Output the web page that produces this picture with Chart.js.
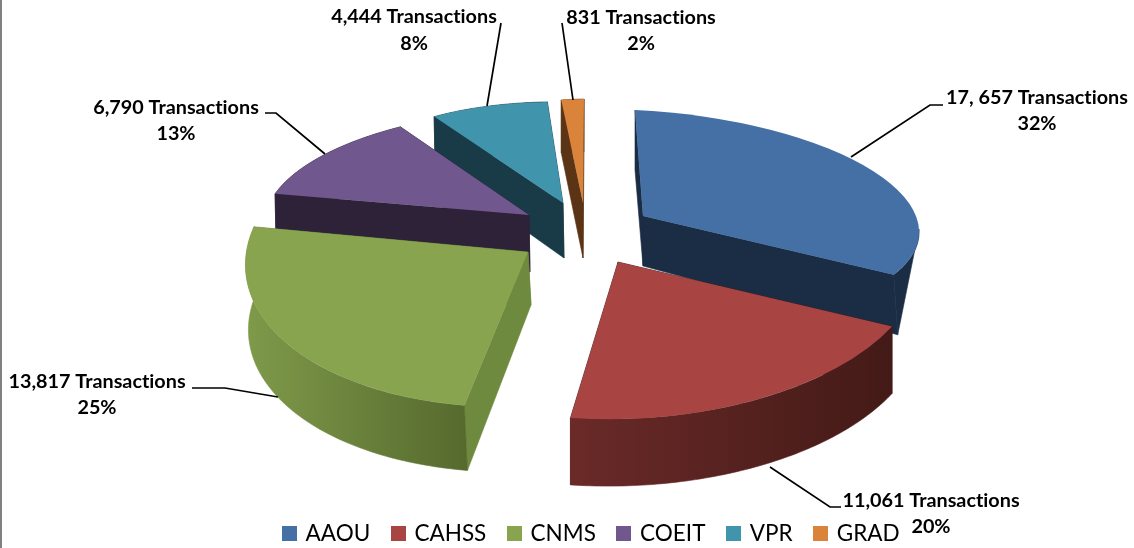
<!DOCTYPE html>
<html><head><meta charset="utf-8">
<style>html,body{margin:0;padding:0;background:#fff}canvas{display:block}</style>
<script src="https://cdn.jsdelivr.net/npm/chart.js@4/dist/chart.umd.min.js"></script>
</head><body><canvas id="c" width="1134" height="548"></canvas>
<script>
const categories = ["AAOU","CAHSS","CNMS","COEIT","VPR","GRAD"];
const transactions = [17657,11061,13817,6790,4444,831];
const transactionLabels = ["17, 657 Transactions","11,061 Transactions","13,817 Transactions","6,790 Transactions","4,444 Transactions","831 Transactions"];
const percentLabels = ["32%","20%","25%","13%","8%","2%"];
const topColors = ["#4470A6","#A84543","#88A44E","#70588F","#4095AD","#D9833B"];

/* 3-D look: each slice's projected frame (hub, 3-o'clock axis, 6-o'clock axis, extrusion at rim and hub) */
const frames = [
 {c:[643,216],e:[276,13],s:[8,106],dr:60,dc:50,dx:0,dxEnd:4,w:["#1B2D44","#1B2D44"],cut:"#1B2D44",rimFrom:0,endCutOnTop:true},
 {c:[618,262],e:[305,-6],s:[2,157],dr:67,dc:55,dx:0,w:["#6A2A28","#431A17"],cut:"#431A17"},
 {c:[528,252],e:[282,-3],s:[-18,155],dr:65,dc:53,dx:3,w:["#7F9A4A","#566A2E"],cut:"#6E8A3E"},
 {c:[529,215],e:[263,2],s:[-26,106],dr:50,dc:57,dx:1,w:["#2D2238","#2D2238"],cut:"#2D2238"},
 {c:[563,203],e:[236,6],s:[-7,101],dr:50,dc:55,dx:1,w:["#183B47","#183B47"],cut:"#183B47"},
 {c:[583,203],e:[238,-5],s:[-1,104],dr:53,dc:55,dx:0,w:["#5A3415","#5A3415"],cut:"#5A3415"}
];
const paintOrder = [5,4,3,0,2,1];
const labelStyle = [
 {x:1037,y:98,py:124,line:[[851,157],[930,105],[943,105]]},
 {x:931,y:501,py:527,line:[[770,467],[830,507],[841,507]]},
 {x:97,y:382,py:408,line:[[278,397],[225,388],[192,388]]},
 {x:176,y:108,py:134,line:[[325,154],[276,113],[265,113]]},
 {x:414,y:17,py:44,line:[[487,106],[501,23]]},
 {x:641,y:18,py:44,line:[[573,100],[562,23]]}
];

const pt = (f,a,r) => {            // a = chart.js angle (0 = 3 o'clock, clockwise), r = 0..1
  const cs=Math.cos(a)*r, sn=Math.sin(a)*r;
  return [f.c[0]+f.e[0]*cs+f.s[0]*sn, f.c[1]+f.e[1]*cs+f.s[1]*sn];
};
function poly(ctx,pts,fill){
  ctx.beginPath(); pts.forEach((p,i)=>i?ctx.lineTo(p[0],p[1]):ctx.moveTo(p[0],p[1]));
  ctx.closePath(); ctx.fillStyle=fill; ctx.fill();
  ctx.strokeStyle=fill; ctx.lineWidth=0.6; ctx.stroke();
}
const legendSwatch = color => {
  const s=document.createElement("canvas"); s.width=15; s.height=15;
  const g=s.getContext("2d"); g.fillStyle=color; g.fillRect(0,0,15,15);
  return s;
};
const pie3d = {
  id:"pie3d",
  afterLayout(chart){
    const l=chart.legend; const shift=25;
    l.left+=shift; l.right+=shift; l.top=548-l.height+7;
  },
  beforeDatasetsDraw(chart){
    const ctx=chart.ctx, arcs=chart.getDatasetMeta(0).data;
    paintOrder.forEach(i=>{
      const el=arcs[i], f=frames[i];
      const a0=el.startAngle, a1=el.endAngle;
      const down=(p,d,dx=f.dx)=>[p[0]+dx,p[1]+d];
      const endDx = f.dxEnd===undefined ? f.dx : f.dxEnd;
      const hub=pt(f,a0,0), p0=pt(f,a0,1), p1=pt(f,a1,1);
      const endCut=()=>poly(ctx,[hub,p1,down(p1,f.dr,endDx),down(hub,f.dc)],f.cut);
      poly(ctx,[hub,p0,down(p0,f.dr),down(hub,f.dc)],f.cut);
      if(!f.endCutOnTop) endCut();
      const rim=[]; const N=80;
      const from = f.rimFrom===undefined ? a0 : f.rimFrom;
      for(let k=0;k<=N;k++) rim.push(pt(f,from+(a1-from)*k/N,1));
      const xs=rim.map(p=>p[0]);
      const g=ctx.createLinearGradient(Math.min(...xs),0,Math.max(...xs),0);
      g.addColorStop(0,f.w[0]); g.addColorStop(1,f.w[1]);
      const bottom = f.rimFrom===undefined ? rim.slice().reverse().map(p=>down(p,f.dr)) : [down(p1,f.dr,endDx)];
      poly(ctx,rim.concat(bottom),g);
      if(f.endCutOnTop) endCut();
      ctx.save();
      ctx.transform(f.e[0]/el.outerRadius,f.e[1]/el.outerRadius,f.s[0]/el.outerRadius,f.s[1]/el.outerRadius,f.c[0],f.c[1]);
      ctx.translate(-el.x,-el.y);
      el.draw(ctx);
      ctx.restore();
    });
    return false;
  },
  afterDraw(chart){
    const ctx=chart.ctx;
    ctx.fillStyle="#808080"; ctx.fillRect(0,0,2,548);
    labelStyle.forEach((s,i)=>{
      ctx.beginPath(); s.line.forEach((p,k)=>k?ctx.lineTo(p[0],p[1]):ctx.moveTo(p[0],p[1]));
      ctx.strokeStyle="#000"; ctx.lineWidth=1.7; ctx.stroke();
      ctx.fillStyle="#000"; ctx.font="bold 19.8px Lato"; ctx.textAlign="center"; ctx.textBaseline="middle";
      ctx.letterSpacing="0.01px";
      ctx.fillText(transactionLabels[i],s.x,s.y);
      ctx.fillText(percentLabels[i],s.x,s.py);
    });
  }
};
new Chart(document.getElementById("c"),{
  type:"pie",
  data:{labels:categories,datasets:[{data:transactions,backgroundColor:topColors,borderWidth:0}]},
  options:{
    responsive:false,animation:false,
    plugins:{tooltip:{enabled:false},title:{display:false},
      legend:{position:"bottom",align:"center",labels:{
        usePointStyle:true,pointStyleWidth:10,boxHeight:15,padding:23,color:"#000",font:{family:"Lato",size:22.5},
        generateLabels(chart){
          return Chart.overrides.pie.plugins.legend.labels.generateLabels(chart)
            .map((item,i)=>({...item,pointStyle:legendSwatch(topColors[i])}));
        }}}}
  },
  plugins:[pie3d]
});
</script></body></html>
